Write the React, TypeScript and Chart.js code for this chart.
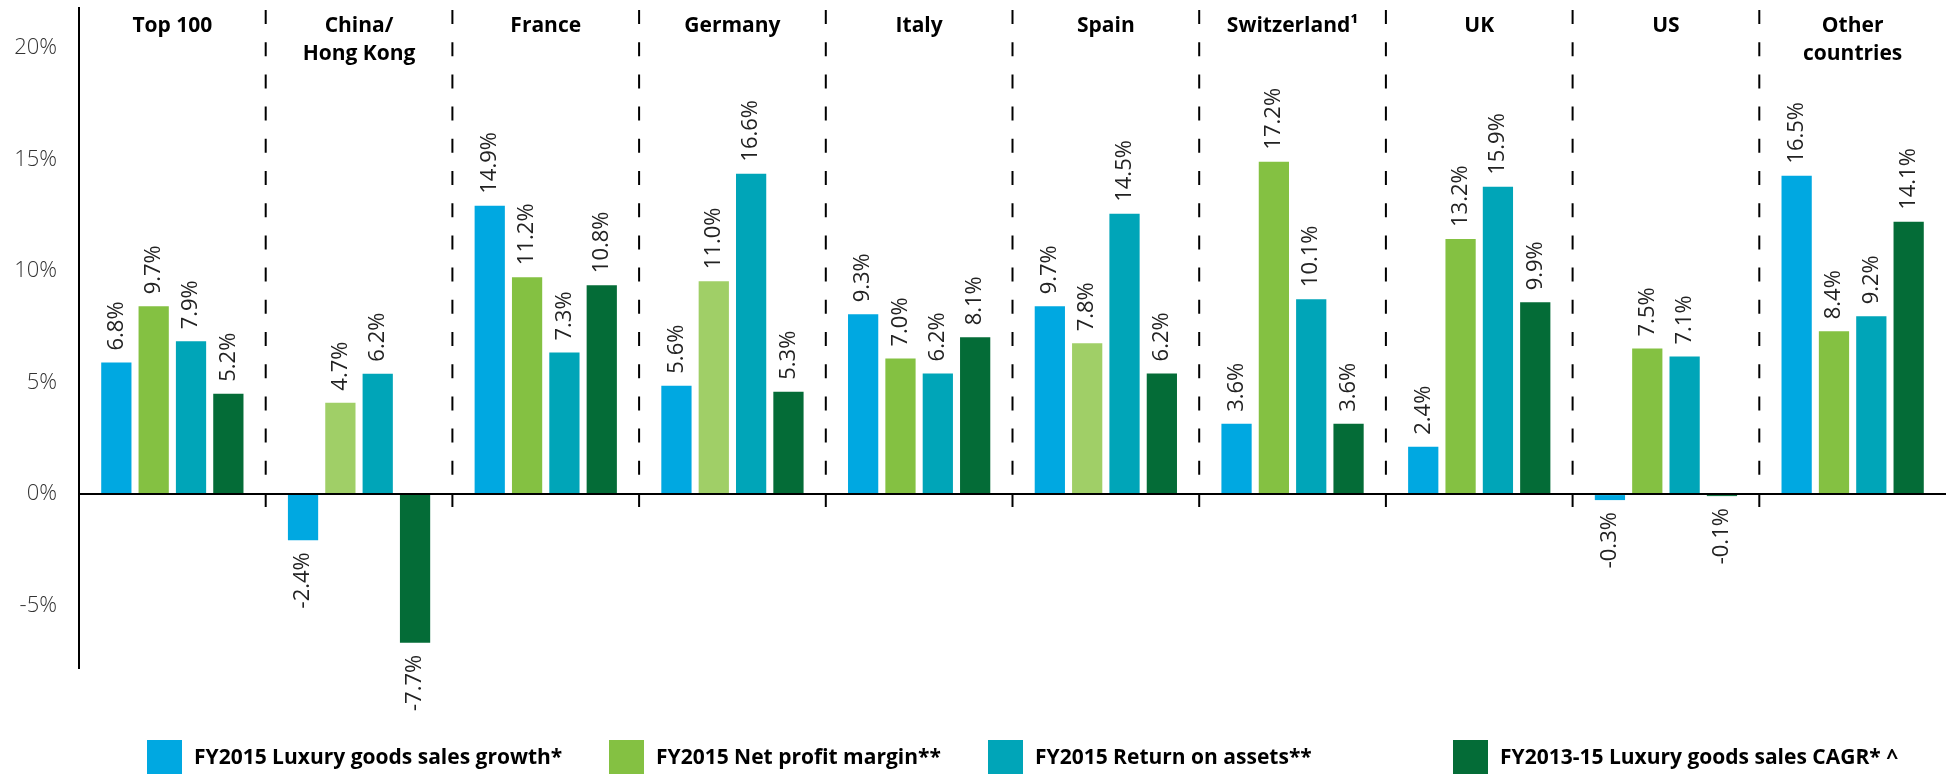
import React, { useEffect, useRef } from 'react';
import { Chart, registerables } from 'chart.js';

Chart.register(...registerables);

const categories: string[][] = [
  ['Top 100'],
  ['China/', 'Hong Kong'],
  ['France'],
  ['Germany'],
  ['Italy'],
  ['Spain'],
  ['Switzerland¹'],
  ['UK'],
  ['US'],
  ['Other', 'countries'],
];

const seriesNames = [
  'FY2015 Luxury goods sales growth*',
  'FY2015 Net profit margin**',
  'FY2015 Return on assets**',
  'FY2013-15 Luxury goods sales CAGR* ^',
];

// bar heights as drawn in the picture
const salesGrowth = [5.9, -2.07, 12.93, 4.86, 8.06, 8.42, 3.15, 2.12, -0.27, 14.28];
const netProfitMargin = [8.42, 4.1, 9.73, 9.55, 6.08, 6.76, 14.91, 11.44, 6.53, 7.3];
const returnOnAssets = [6.85, 5.4, 6.35, 14.37, 5.41, 12.57, 8.74, 13.78, 6.17, 7.97];
const salesCagr = [4.5, -6.67, 9.37, 4.59, 7.03, 5.41, 3.15, 8.6, -0.09, 12.21];

// printed value labels
const salesGrowthLabels = ['6.8%', '-2.4%', '14.9%', '5.6%', '9.3%', '9.7%', '3.6%', '2.4%', '-0.3%', '16.5%'];
const netProfitMarginLabels = ['9.7%', '4.7%', '11.2%', '11.0%', '7.0%', '7.8%', '17.2%', '13.2%', '7.5%', '8.4%'];
const returnOnAssetsLabels = ['7.9%', '6.2%', '7.3%', '16.6%', '6.2%', '14.5%', '10.1%', '15.9%', '7.1%', '9.2%'];
const salesCagrLabels = ['5.2%', '-7.7%', '10.8%', '5.3%', '8.1%', '6.2%', '3.6%', '9.9%', '-0.1%', '14.1%'];

const yTicks = [-5, 0, 5, 10, 15, 20];

const BLUE = '#00A8E1';
const GREEN = '#84C142';
const LIGHT_GREEN = '#A0CF67';
const TEAL = '#00A5B8';
const DARK = '#046C37';
const lightGreenIdx = [1, 3, 5];

const legendColors = [BLUE, GREEN, TEAL, DARK];
const legendX = [147, 609, 988, 1453];

const labelSets = [salesGrowthLabels, netProfitMarginLabels, returnOnAssetsLabels, salesCagrLabels];

const decorPlugin = {
  id: 'decor',
  beforeDatasetsDraw(chart: any) {
    const ctx = chart.ctx;
    const x = chart.scales.x;
    ctx.save();
    ctx.strokeStyle = '#000';
    ctx.lineWidth = 2;
    ctx.setLineDash([14, 18.2]);
    for (let i = 0; i < categories.length - 1; i++) {
      const px = (x.getPixelForValue(i) + x.getPixelForValue(i + 1)) / 2;
      ctx.beginPath();
      ctx.moveTo(px, 10);
      ctx.lineTo(px, 508);
      ctx.stroke();
    }
    ctx.restore();
  },
  afterDatasetsDraw(chart: any) {
    const ctx = chart.ctx;
    const x = chart.scales.x;
    ctx.save();
    // value labels
    ctx.font = '400 22px "Open Sans"';
    ctx.fillStyle = '#222';
    ctx.textBaseline = 'middle';
    chart.data.datasets.forEach((ds: any, di: number) => {
      const meta = chart.getDatasetMeta(di);
      meta.data.forEach((bar: any, i: number) => {
        const v = ds.data[i];
        const lbl = labelSets[di][i];
        ctx.save();
        ctx.translate(bar.x, bar.y + (v >= 0 ? -12 : 12));
        ctx.rotate(-Math.PI / 2);
        ctx.textAlign = v >= 0 ? 'left' : 'right';
        ctx.fillText(lbl, 0, 0);
        ctx.restore();
      });
    });
    // category labels
    ctx.font = 'bold 21px "Open Sans"';
    ctx.fillStyle = '#000';
    ctx.textAlign = 'center';
    categories.forEach((lines, i) => {
      const px = x.getPixelForValue(i);
      lines.forEach((t, li) => {
        ctx.fillText(t, px, 26 + li * 28);
      });
    });
    // legend
    ctx.font = 'bold 21px "Open Sans"';
    ctx.textAlign = 'left';
    seriesNames.forEach((name, i) => {
      ctx.fillStyle = legendColors[i];
      ctx.fillRect(legendX[i], 740, 35, 35);
      ctx.fillStyle = '#000';
      ctx.fillText(name, legendX[i] + 47, 758);
    });
    ctx.restore();
  },
};

export default function App() {
  const ref = useRef<HTMLCanvasElement | null>(null);
  useEffect(() => {
    document.body.style.margin = '0';
    const canvas = ref.current;
    if (!canvas) return;
    const chart = new Chart(canvas, {
      type: 'bar',
      data: {
        labels: categories.map((c) => c.join(' ')),
        datasets: [
          { label: seriesNames[0], data: salesGrowth, backgroundColor: BLUE },
          {
            label: seriesNames[1],
            data: netProfitMargin,
            backgroundColor: netProfitMargin.map((_, i) => (lightGreenIdx.includes(i) ? LIGHT_GREEN : GREEN)),
          },
          { label: seriesNames[2], data: returnOnAssets, backgroundColor: TEAL },
          { label: seriesNames[3], data: salesCagr, backgroundColor: DARK },
        ],
      },
      options: {
        animation: false,
        responsive: false,
        devicePixelRatio: 1,
        layout: { padding: { left: 0, right: 2, top: 8, bottom: 106 } },
        datasets: { bar: { categoryPercentage: 0.8, barPercentage: 0.81 } },
        plugins: { legend: { display: false }, tooltip: { enabled: false } },
        scales: {
          x: { type: 'category', display: false, offset: true, grid: { display: false } },
          y: {
            min: -7.8,
            max: 21.8,
            afterBuildTicks: (s: any) => {
              s.ticks = yTicks.map((v) => ({ value: v }));
            },
            afterFit: (s: any) => {
              s.width = 79;
              s.paddingTop = 0;
              s.paddingBottom = 0;
            },
            ticks: {
              padding: 22,
              color: '#333',
              font: { family: 'Open Sans', size: 22, weight: '300' },
              callback: (v: any) => v + '%',
            },
            grid: {
              drawTicks: false,
              lineWidth: 2,
              color: (c: any) => (c.tick && c.tick.value === 0 ? '#000' : 'rgba(0,0,0,0)'),
            },
            border: { display: true, color: '#000', width: 2 },
          },
        },
      } as any,
      plugins: [decorPlugin],
    });
    return () => chart.destroy();
  }, []);
  return (
    <div style={{ position: 'fixed', left: 0, top: 0, width: 1948, height: 774, background: '#fff' }}>
      <canvas ref={ref} width={1948} height={774} style={{ width: 1948, height: 774, display: 'block' }} />
    </div>
  );
}
